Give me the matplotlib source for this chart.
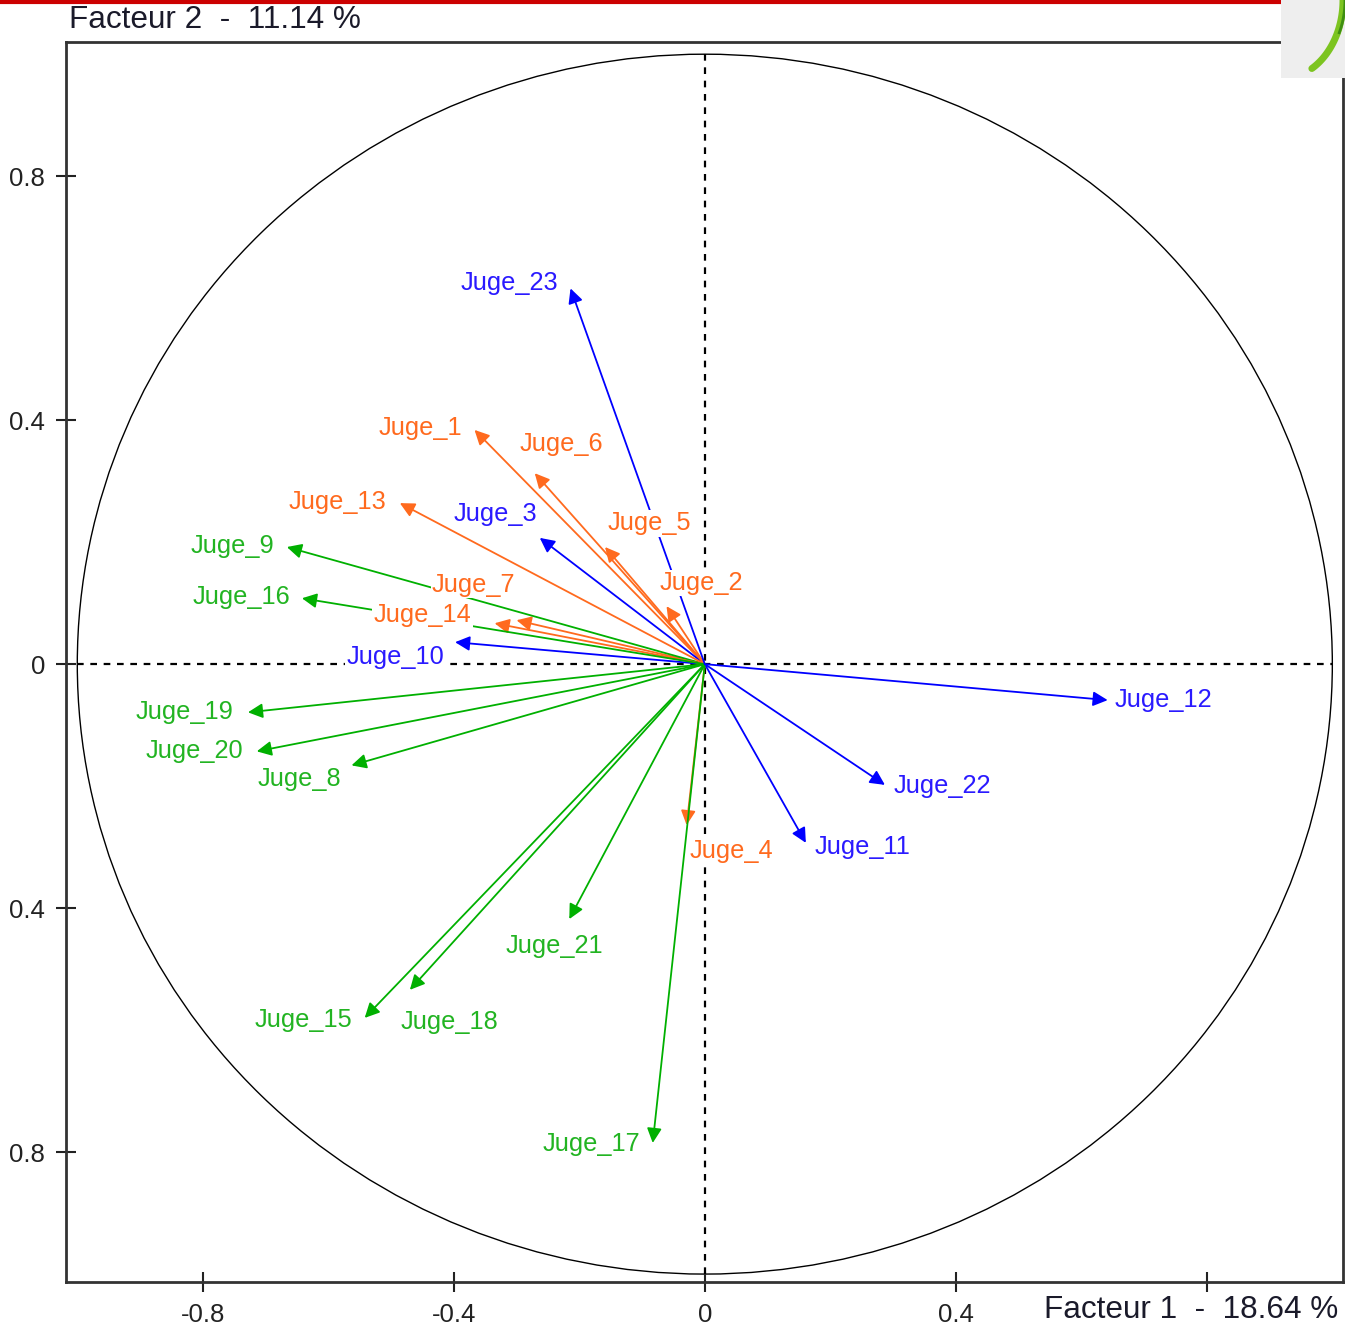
import numpy as np
import matplotlib
matplotlib.use("Agg")
import matplotlib.pyplot as plt
from matplotlib.patches import Circle, Rectangle
from matplotlib.lines import Line2D

plt.rcParams['font.family'] = ['Liberation Sans', 'DejaVu Sans']

# judges: coordinates on factors 1 and 2
judges = ["Juge_1", "Juge_2", "Juge_3", "Juge_4", "Juge_5", "Juge_6", "Juge_7",
          "Juge_8", "Juge_9", "Juge_10", "Juge_11", "Juge_12", "Juge_13", "Juge_14",
          "Juge_15", "Juge_16", "Juge_17", "Juge_18", "Juge_19", "Juge_20",
          "Juge_21", "Juge_22", "Juge_23"]
f1 = [-0.367, -0.061, -0.263, -0.029, -0.159, -0.271, -0.300,
      -0.563, -0.666, -0.398, 0.161, 0.642, -0.486, -0.335,
      -0.542, -0.642, -0.083, -0.470, -0.728, -0.714,
      -0.216, 0.287, -0.214]
f2 = [0.384, 0.095, 0.207, -0.264, 0.192, 0.313, 0.072,
      -0.166, 0.192, 0.036, -0.293, -0.059, 0.264, 0.067,
      -0.580, 0.108, -0.785, -0.534, -0.079, -0.143,
      -0.418, -0.198, 0.616]
group = ["o", "o", "b", "o", "o", "o", "o",
         "g", "g", "b", "b", "b", "o", "o",
         "g", "g", "g", "g", "g", "g",
         "g", "b", "b"]

# label anchors (left edge, vertical centre) in factor units
lab_x = [-0.520, -0.072, -0.400, -0.024, -0.155, -0.295, -0.435,
         -0.712, -0.819, -0.571, 0.175, 0.653, -0.663, -0.528,
         -0.717, -0.816, -0.258, -0.485, -0.907, -0.891,
         -0.317, 0.300, -0.390]
lab_y = [0.387, 0.133, 0.246, -0.307, 0.231, 0.361, 0.130,
         -0.189, 0.193, 0.012, -0.300, -0.059, 0.266, 0.080,
         -0.584, 0.110, -0.787, -0.587, -0.079, -0.143,
         -0.462, -0.200, 0.625]

colors = {"o": "#FF6A1E", "b": "#0000FF", "g": "#00B000"}
text_colors = {"o": "#FF6A1E", "b": "#2A1AFF", "g": "#22B422"}

xticks = [-0.8, -0.4, 0, 0.4, 0.8]
xtick_labels = ["-0.8", "-0.4", "0", "0.4", ""]
yticks = [-0.8, -0.4, 0, 0.4, 0.8]
ytick_labels = ["0.8", "0.4", "0", "0.4", "0.8"]

fig = plt.figure(figsize=(13.45, 13.25), dpi=100)
ax = fig.add_axes([66 / 1345, 1 - 1282 / 1325, (1343 - 66) / 1345, (1282 - 42) / 1325])
ax.set_xlim(-1.018, 1.017)
ax.set_ylim(-1.013, 1.020)

ax.add_patch(Circle((0, 0), 1.0, fill=False, color="black", lw=1.0))
ax.plot([-1, 1], [0, 0], color="black", lw=1.6, ls=(0, (3, 3)))
ax.plot([0, 0], [-1, 1], color="black", lw=1.6, ls=(0, (3, 3)))

for i, name in enumerate(judges):
    c = colors[group[i]]
    ax.annotate("", xy=(f1[i], f2[i]), xytext=(0, 0),
                arrowprops=dict(arrowstyle="-|>", color=c, lw=1.3,
                                mutation_scale=22, shrinkA=0, shrinkB=0),
                zorder=3)
    ax.text(lab_x[i], lab_y[i], name, color=text_colors[group[i]], fontsize=18.3,
            ha="left", va="center", zorder=5,
            bbox=dict(facecolor="white", edgecolor="none", pad=1.0))

ax.set_xticks(xticks)
ax.set_xticklabels(xtick_labels)
ax.set_yticks(yticks)
ax.set_yticklabels(ytick_labels)
ax.tick_params(direction="inout", length=14, width=1.5, labelsize=18.5,
               colors="#222222")
ax.tick_params(axis="y", pad=8)
ax.tick_params(axis="x", pad=8)
for s in ax.spines.values():
    s.set_linewidth(2)
    s.set_color("#333333")

fig.text(69 / 1345, 1 - 20 / 1325, "Facteur 2  -  11.14 %", fontsize=22.7,
         ha="left", va="center", color="#1a1a2a")
fig.text(1338 / 1345, 1 - 1310 / 1325, "Facteur 1  -  18.64 %", fontsize=22.7,
         ha="right", va="center", color="#1a1a2a")

# red banner line and logo corner
fig.add_artist(Line2D([0, 1280 / 1345], [1 - 1.5 / 1325, 1 - 1.5 / 1325],
                      color="#CC0000", lw=3, transform=fig.transFigure))
logo = fig.add_axes([1281 / 1345, 1 - 78 / 1325, 64 / 1345, 78 / 1325], zorder=11)
logo.set_xlim(0, 64)
logo.set_ylim(0, 78)
logo.set_facecolor("#EEEEEE")
logo.set_xticks([])
logo.set_yticks([])
for s in logo.spines.values():
    s.set_visible(False)
t = np.linspace(0, -1.05, 60)
logo.plot(62 * np.cos(t), 78 + 79 * np.sin(t), color="#7CC420", lw=5,
          solid_capstyle="round")
logo.plot(64 * np.cos(t[:25]), 78 + 79 * np.sin(t[:25]), color="#3E8E12", lw=2)

fig.savefig("out.png", dpi=100)
